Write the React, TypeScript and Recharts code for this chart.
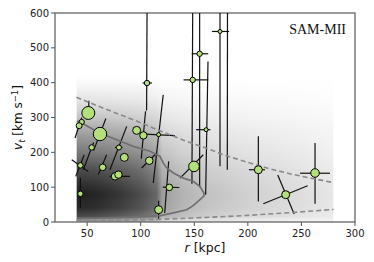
import React from 'react';
import { ScatterChart, Scatter, XAxis, YAxis, ZAxis, ReferenceArea, ReferenceLine } from 'recharts';

// Satellites: galactocentric distance r [kpc], tangential velocity v_t [km/s], marker weight
const satR = [51.1, 44.9, 42.5, 62.0, 54.2, 43.7, 43.7, 64.5, 79.7, 84.7, 76.0, 79.2, 96.2, 102.5, 105.9, 108.0, 116.7, 126.7, 116.7, 148.5, 149.7, 155.0, 161.0, 174.0, 209.8, 235.3, 262.7];
const satV = [313, 287, 276.5, 252.6, 214, 162.5, 81, 157, 214, 185.5, 131, 136, 263, 248.6, 399, 176, 250.7, 99.4, 35.3, 408, 159.6, 483, 265, 547, 150, 78.4, 140.7];
const satWeight = [42, 7.3, 9, 45, 7.3, 7.3, 7.3, 11, 6.3, 16, 13.7, 13.7, 16, 13.7, 7.3, 14.4, 4, 11, 16, 7.3, 28, 7.3, 4, 4, 16, 16, 18.5];

// Error-ellipse axes, as [r1, v1, r2, v2] in data units (null: none visible)
const errMajor: (number[] | null)[] = [
  [51.3, 300, 51.6, 348], null, [38.7, 241, 45, 300], [56, 205, 67.5, 297], [46.4, 150, 56, 228],
  [39.3, 131, 47.3, 193], [43.7, 40, 43.7, 126], [60.4, 136, 68.2, 193], [71.3, 150, 86.9, 274.5], null,
  null, null, null, [100.5, 182, 104.5, 318], [105.9, 600, 105.5, 320],
  [100.9, 155, 114.9, 198], [111.7, 112, 121, 365], [122.4, 26, 126.1, 174], [116.7, 6, 116.7, 61], [148.5, 600, 147.8, 110],
  [136.7, 126, 158.4, 193], [155, 600, 155, 100], [162.8, 461, 160.6, 78], [174, 600, 174, 160], [209.8, 246, 209.8, 59],
  [227.9, 135, 243.2, 23], [262.7, 227, 262.7, 52.5],
];
const errMinor: (number[] | null)[] = [
  null, null, null, null, null,
  [35.6, 179, 51, 145], null, null, [76, 214, 83, 214], null,
  [71, 131, 90, 131], null, null, null, [101.8, 399, 110.5, 399],
  null, [104, 252, 132, 248], [120.6, 100, 136, 99], null, [140, 408, 163, 408],
  null, [147.6, 483, 163, 483], [151.7, 265, 165, 265], [166.5, 547, 182.5, 547], [201, 150, 216, 150],
  [214.4, 52.5, 255.8, 104], [248.7, 140, 276.7, 140],
];
const errExtra: number[][] = [[181, 600, 180.8, 150]];

// Simulation: median track and envelope
const medianR = [40.5, 44.9, 62, 77.6, 93.1, 108.7, 118, 121.1, 124.2, 130.5, 139.8, 149, 155.3, 159, 159, 155.3, 149, 142.9, 130.5, 118, 93.1, 62, 40.2];
const medianV = [290, 284, 255, 236, 217, 203, 188.5, 169, 155, 140.7, 126, 117, 102, 83, 74, 64, 47, 35, 26, 18, 14, 11.5, 9.6];
const upperR = [40, 60, 80, 100, 120, 140, 160, 180, 200, 220, 240, 260, 280];
const upperV = [358, 333, 309, 285, 259, 235, 213, 190, 171, 153, 138, 125, 113];
const lowerR = [40, 80, 120, 160, 200, 240, 280];
const lowerV = [4, 5, 8, 13, 19, 27, 36];

// Density of simulated subhaloes (separable profile)
const densR = [40, 60, 80, 100, 115, 120, 140, 160, 200, 250, 280];
const densRW = [1.0, 0.97, 0.9, 0.8, 0.68, 0.44, 0.34, 0.28, 0.21, 0.15, 0.11];
const densV = [0, 8, 15, 40, 80, 100, 150, 200, 250, 300, 350, 400, 420];
const densVW = [0.45, 0.5, 0.8, 0.95, 1.0, 0.95, 0.8, 0.6, 0.44, 0.26, 0.12, 0.025, 0];

const xTicks = [50, 100, 150, 200, 250, 300];
const yTicks = [0, 100, 200, 300, 400, 500, 600];

const pts = (xs: number[], ys: number[]) => xs.map((x, i) => ({ x, y: ys[i] }));
const satData = satR.map((x, i) => ({ x, y: satV[i], z: satWeight[i] }));
const segments = [...errMajor, ...errMinor, ...errExtra].filter((s) => s) as number[][];

const noShape = () => <g />;

const DensityShape = (props: any) => {
  const { x, y, width, height } = props;
  const r0 = densR[0];
  const rSpan = densR[densR.length - 1] - r0;
  const vTop = densV[densV.length - 1];
  return (
    <g>
      <defs>
        <linearGradient id="densVG" x1="0" y1="1" x2="0" y2="0">
          {densV.map((v, i) => (
            <stop key={i} offset={v / vTop} stopColor="#000" stopOpacity={densVW[i] * 0.88} />
          ))}
        </linearGradient>
        <linearGradient id="densHG" x1="0" y1="0" x2="1" y2="0">
          {densR.map((r, i) => (
            <stop key={i} offset={(r - r0) / rSpan} stopColor="#fff" stopOpacity={densRW[i]} />
          ))}
        </linearGradient>
        <mask id="densMask" maskUnits="userSpaceOnUse" x={x} y={y} width={width} height={height}>
          <rect x={x} y={y} width={width} height={height} fill="url(#densHG)" />
        </mask>
      </defs>
      <rect x={x} y={y} width={width} height={height} fill="url(#densVG)" mask="url(#densMask)" />
    </g>
  );
};

const FrameShape = (props: any) => {
  const { x, y, width, height } = props;
  return (
    <g>
      <rect x={x} y={y} width={width} height={height} fill="none" stroke="#666" strokeWidth={1.3} />
      <text x={x + width - 9} y={y + 21} textAnchor="end" fontFamily="Liberation Serif" fontSize={14} fill="#111">
        SAM-MII
      </text>
    </g>
  );
};

const XLabel = (props: any) => {
  const vb = props.viewBox;
  return (
    <text x={vb.x + vb.width / 2} y={vb.y + 30} textAnchor="middle" fontFamily="DejaVu Sans" fontSize={12.5} fill="#111">
      <tspan fontStyle="italic">r</tspan> [kpc]
    </text>
  );
};

const YLabel = (props: any) => {
  const vb = props.viewBox;
  const cx = 22;
  const cy = vb.y + vb.height / 2;
  return (
    <text x={cx} y={cy} textAnchor="middle" transform={`rotate(-90 ${cx} ${cy})`} fontFamily="DejaVu Sans" fontSize={12} fill="#111">
      <tspan fontStyle="italic">v</tspan>
      <tspan fontSize={8.5} dy={2.5} fontStyle="italic">t</tspan>
      <tspan dy={-2.5}> [km s</tspan>
      <tspan fontSize={8.5} dy={-4.5}>−1</tspan>
      <tspan dy={4.5}>]</tspan>
    </text>
  );
};

const tickStyle = { fill: '#222', fontSize: 10, fontFamily: 'DejaVu Sans' };

export default function App() {
  return (
    <div style={{ position: 'absolute', left: 0, top: 0, background: '#fff' }}>
      <ScatterChart width={374} height={262} margin={{ top: 13, right: 19, bottom: 10, left: 10 }}>
        <XAxis
          type="number"
          dataKey="x"
          domain={[20, 300]}
          ticks={xTicks}
          allowDataOverflow
          axisLine={false}
          tickLine={{ stroke: '#555' }}
          tickSize={4}
          tickMargin={4}
          tick={tickStyle}
          height={30}
          label={{ content: XLabel }}
        />
        <YAxis
          type="number"
          dataKey="y"
          domain={[0, 600]}
          ticks={yTicks}
          allowDataOverflow
          axisLine={false}
          tickLine={{ stroke: '#555' }}
          tickSize={4}
          tickMargin={2}
          tick={tickStyle}
          width={45}
          label={{ content: YLabel }}
        />
        <ZAxis type="number" dataKey="z" domain={[0, 50]} range={[0, 157]} />
        <ReferenceArea x1={densR[0]} x2={densR[densR.length - 1]} y1={densV[0]} y2={densV[densV.length - 1]} shape={DensityShape} ifOverflow="visible" />
        <Scatter data={pts(lowerR, lowerV)} line={{ stroke: '#8a8a8a', strokeWidth: 1.6, strokeDasharray: '5 3' }} shape={noShape} isAnimationActive={false} />
        <Scatter data={pts(upperR, upperV)} line={{ stroke: '#8a8a8a', strokeWidth: 1.6, strokeDasharray: '5 3' }} shape={noShape} isAnimationActive={false} />
        <Scatter data={pts(medianR, medianV)} line={{ stroke: '#707070', strokeWidth: 1.7 }} shape={noShape} isAnimationActive={false} />
        {segments.map((s, i) => (
          <ReferenceLine key={i} segment={[{ x: s[0], y: s[1] }, { x: s[2], y: s[3] }]} stroke="#111" strokeWidth={1.2} ifOverflow="visible" />
        ))}
        <Scatter data={satData} fill="#b3e07a" stroke="#000" strokeWidth={1} isAnimationActive={false} />
        <ReferenceArea x1={20} x2={300} y1={0} y2={600} shape={FrameShape} ifOverflow="visible" />
      </ScatterChart>
    </div>
  );
}
